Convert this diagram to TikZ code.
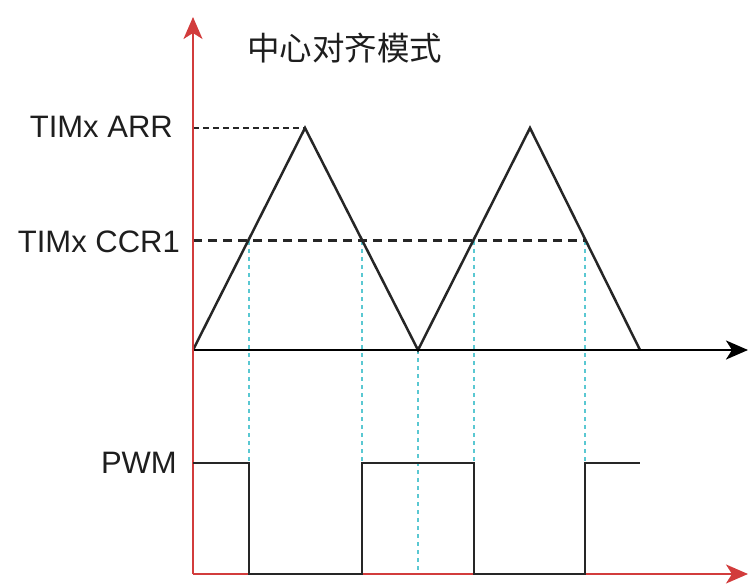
\documentclass[tikz,border=0pt]{standalone}
\usepackage{fontspec}
\setmainfont{Liberation Sans}
\newfontfamily\cjk{Noto Sans CJK SC}
\usetikzlibrary{arrows.meta}
\definecolor{axisred}{RGB}{210,60,60}
\definecolor{guidecyan}{RGB}{90,200,210}
\begin{document}
\begin{tikzpicture}[x=1pt,y=-1pt,
  lbl/.style={inner sep=0pt,font=\fontsize{31}{36}\selectfont,text={rgb,255:red,30;green,30;blue,30}},
  redaxis/.style={draw=axisred,line width=2pt,-{Stealth[length=22pt,width=19pt,inset=6pt]}},
  blackaxis/.style={draw=black,line width=2.4pt,-{Stealth[length=22pt,width=19pt,inset=6pt]}},
  wave/.style={draw=black!85,line width=2.5pt,line join=miter},
  arrdash/.style={draw=black!85,line width=1.8pt,dash pattern=on 6pt off 4pt},
  ccrdash/.style={draw=black!85,line width=3pt,dash pattern=on 9pt off 6pt},
  guide/.style={draw=guidecyan,line width=2pt,dash pattern=on 4pt off 4pt}]
\useasboundingbox (0,0) rectangle (749,585);
% coordinates
\coordinate (O) at (193,574);
\coordinate (Ytop) at (193,17);
\coordinate (Xend) at (748,574);
\coordinate (A0) at (193,350);
\coordinate (Aend) at (748,350);
\coordinate (P1) at (305,128);
\coordinate (V1) at (418,350);
\coordinate (P2) at (530,128);
\coordinate (E) at (640,350);
\coordinate (ARRl) at (193,128);
\coordinate (CCRl) at (193,241);
\coordinate (CCRr) at (585,241);
\coordinate (c1) at (249,241);
\coordinate (c2) at (362,241);
\coordinate (c3) at (474,241);
\coordinate (c4) at (585,241);
\coordinate (b1) at (249,574);
\coordinate (b2) at (362,574);
\coordinate (b3) at (418,574);
\coordinate (b4) at (474,574);
\coordinate (b5) at (585,574);
% labels
\node[lbl,anchor=base east] (arr) at (173,138) {TIMx ARR};
\node[lbl,anchor=base east] (ccr) at (180,252) {TIMx CCR1};
\node[lbl,anchor=base east] (pwm) at (177,473) {PWM};
\node[inner sep=0pt,anchor=west,font=\cjk\fontsize{32.5}{36}\selectfont,text={rgb,255:red,30;green,30;blue,30}] (title) at (247,48) {中心对齐模式};
% guides
\draw[guide] (c1) -- (b1);
\draw[guide] (c2) -- (b2);
\draw[guide] (V1) -- (b3);
\draw[guide] (c3) -- (b4);
\draw[guide] (c4) -- (b5);
% dashed levels
\draw[arrdash] (ARRl) -- (P1);
\draw[ccrdash] (CCRl) -- (CCRr);
% triangle wave
\draw[wave] (A0) -- (P1) -- (V1) -- (P2) -- (E);
% axes
\draw[blackaxis] (A0) -- (Aend);
\draw[redaxis] (O) -- (Ytop);
\draw[redaxis] (O) -- (Xend);
% PWM
\draw[wave] (193,463) -- (249,463) -- (b1) -- (b2) -- (362,463) -- (474,463) -- (b4) -- (b5) -- (585,463) -- (640,463);
\end{tikzpicture}
\end{document}
